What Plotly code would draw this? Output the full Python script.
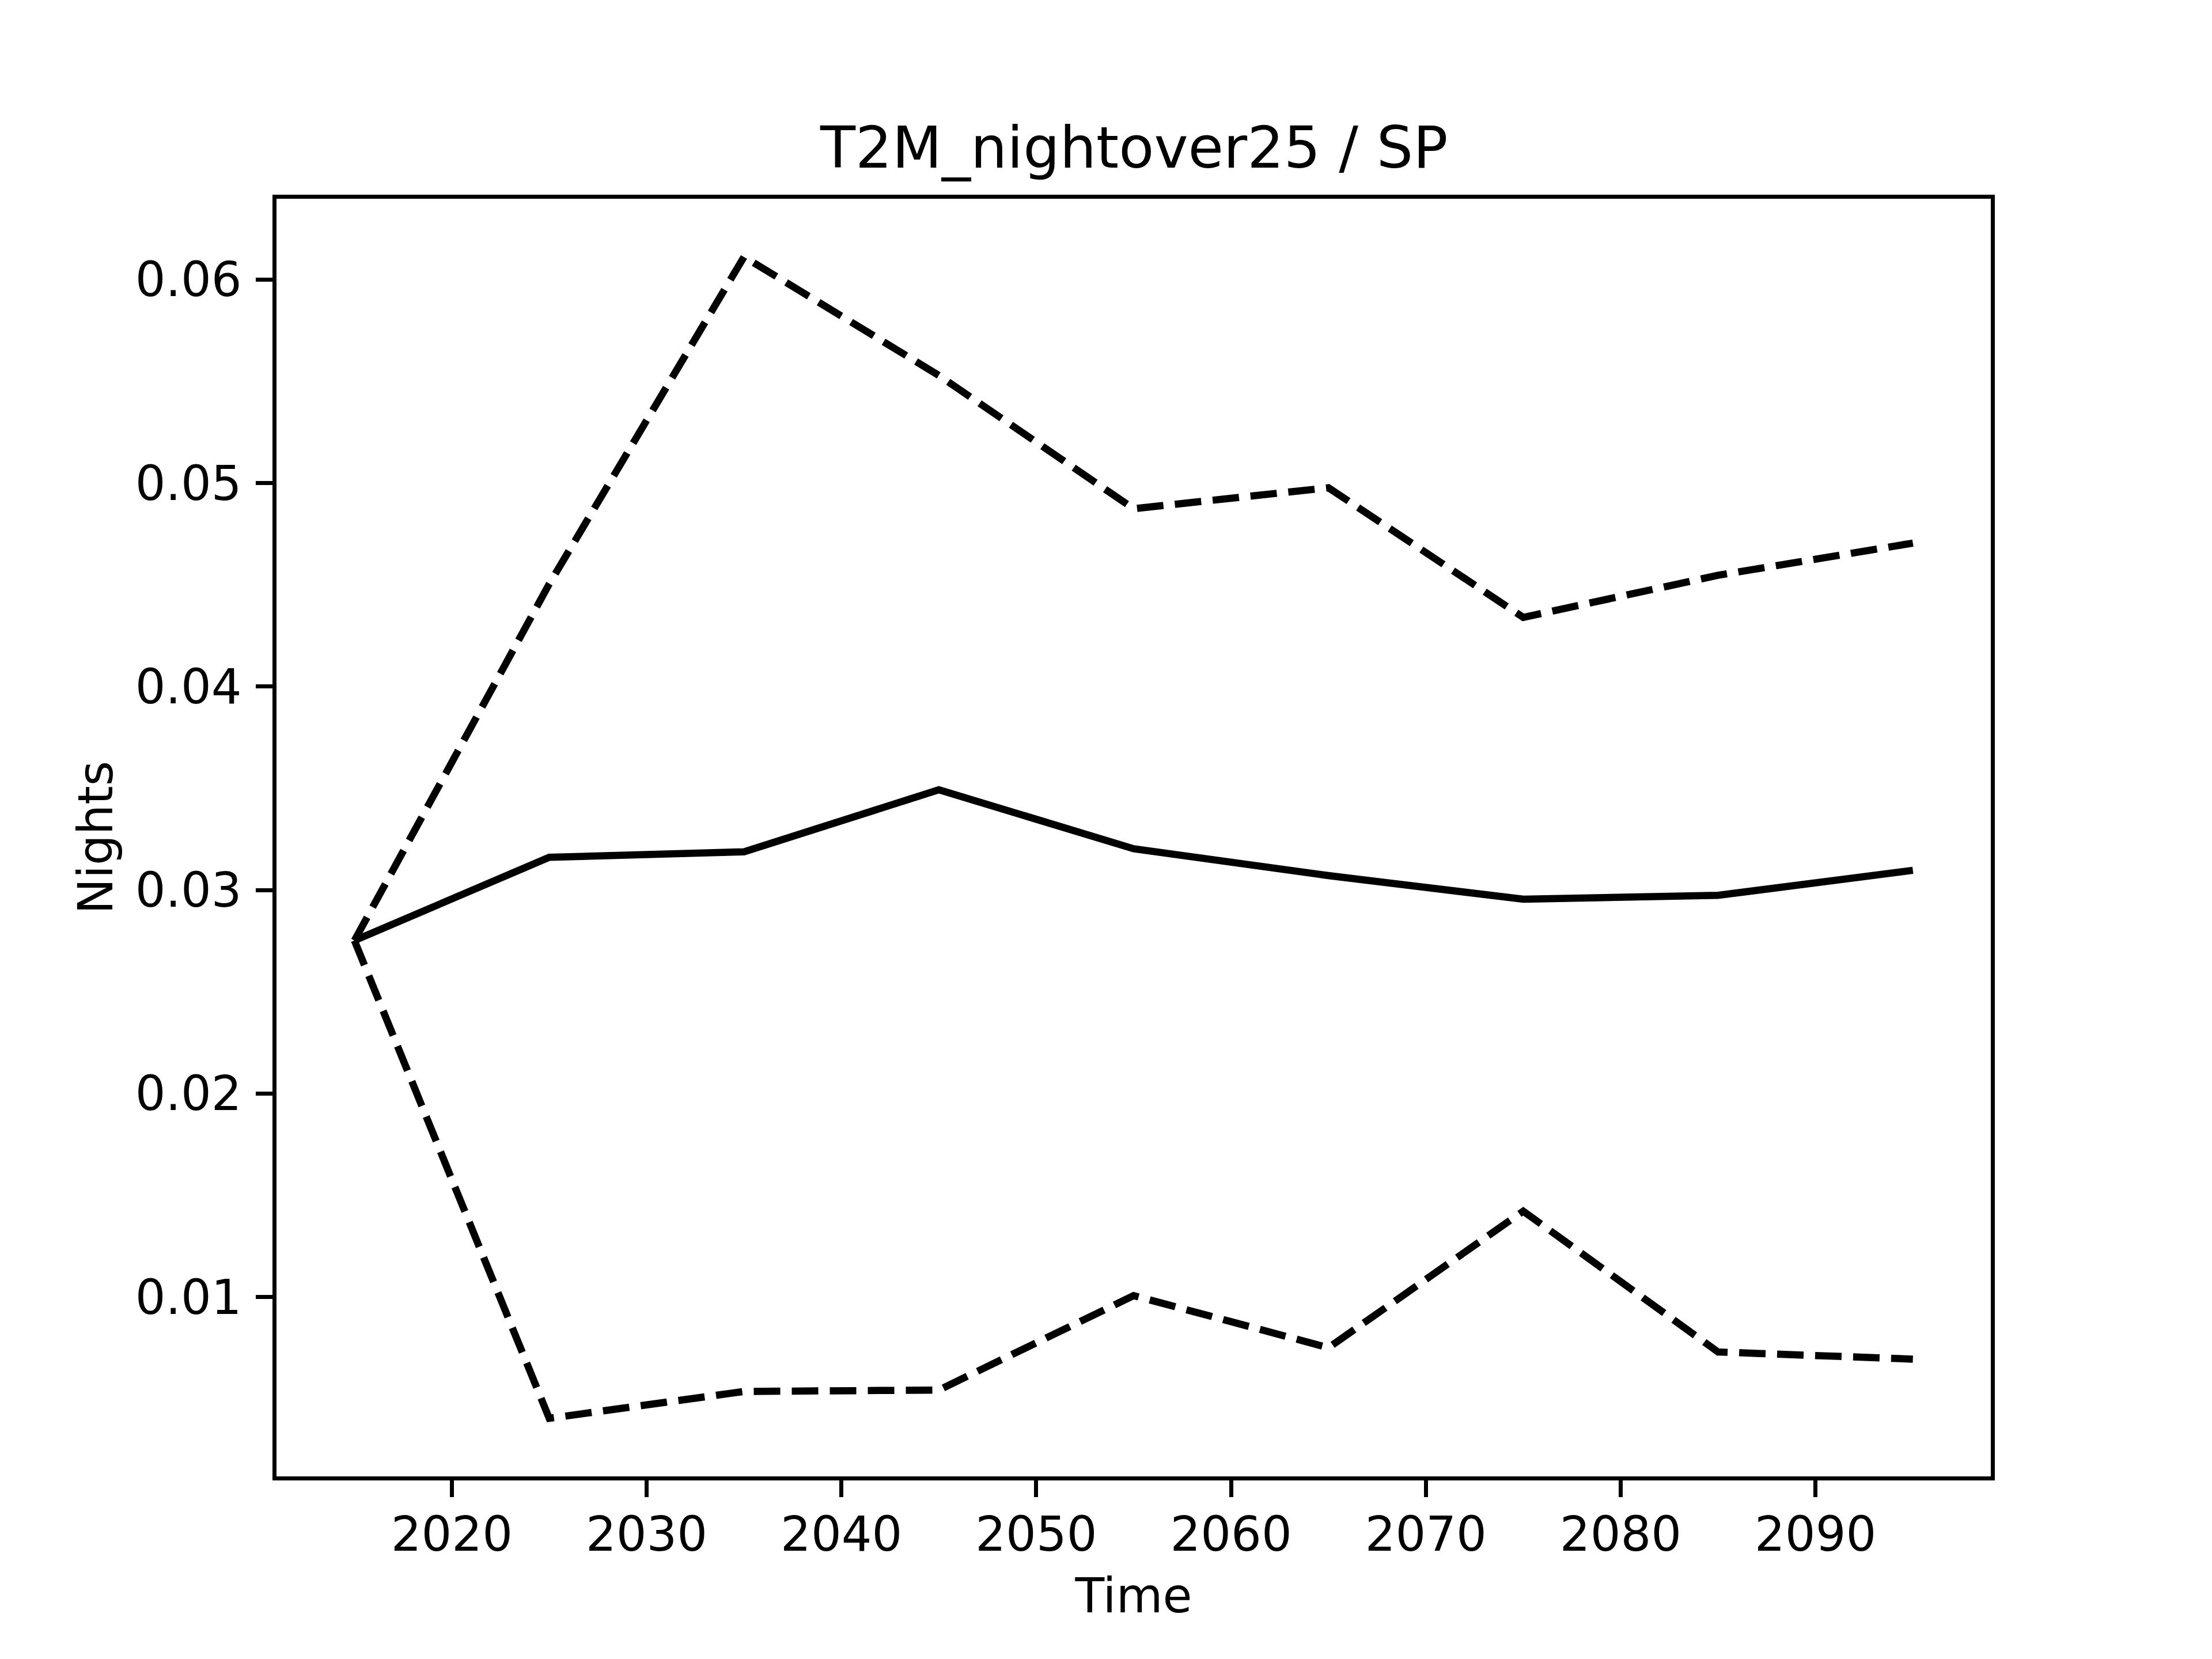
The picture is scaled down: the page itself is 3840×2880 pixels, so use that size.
import plotly.graph_objects as go

years = [2015, 2025, 2035, 2045, 2055, 2065, 2075, 2085, 2095]
mean_vals = [0.02752, 0.03161, 0.03188, 0.03493, 0.03203, 0.03071, 0.02955, 0.02974, 0.03097]
upper_vals = [0.02752, 0.04504, 0.06112, 0.05529, 0.04874, 0.04977, 0.04340, 0.04547, 0.04705]
lower_vals = [0.02752, 0.00404, 0.00536, 0.00543, 0.01007, 0.00751, 0.01422, 0.00730, 0.00695]

x_ticks = [2020, 2030, 2040, 2050, 2060, 2070, 2080, 2090]
y_ticks = [0.01, 0.02, 0.03, 0.04, 0.05, 0.06]
y_tick_text = ["0.01", "0.02", "0.03", "0.04", "0.05", "0.06"]

title_text = "T2M_nightover25 / SP"
x_label = "Time"
y_label = "Nights"

# page body has an 8px default margin; compensate
W, H = 3832, 2872
L, R, T, B = 472, 384, 337, 317
FONT = "DejaVu Sans"
LW = 12.5
DASH = "46px,20px"

# matplotlib-like 5% margins
xmin, xmax = min(years), max(years)
xr = xmax - xmin
allv = mean_vals + upper_vals + lower_vals
ymin, ymax = min(allv), max(allv)
yr = ymax - ymin

fig = go.Figure()
fig.add_trace(go.Scatter(x=years, y=mean_vals, mode="lines",
                         line=dict(color="black", width=LW), showlegend=False))
fig.add_trace(go.Scatter(x=years, y=upper_vals, mode="lines",
                         line=dict(color="black", width=LW, dash=DASH), showlegend=False))
fig.add_trace(go.Scatter(x=years, y=lower_vals, mode="lines",
                         line=dict(color="black", width=LW, dash=DASH), showlegend=False))

axis_common = dict(
    showgrid=False, zeroline=False, showline=True, mirror=True,
    linecolor="black", linewidth=6.7,
    ticks="outside", ticklen=29, tickwidth=6.7, tickcolor="black",
    tickfont=dict(family=FONT, size=83, color="black"),
)

fig.update_layout(
    width=W, height=H, autosize=False,
    margin=dict(l=L, r=R, t=T, b=B, pad=0),
    paper_bgcolor="white", plot_bgcolor="white",
    font=dict(family=FONT, color="black"),
    xaxis=dict(range=[xmin - 0.05 * xr, xmax + 0.05 * xr],
               tickvals=x_ticks, ticktext=[str(v) for v in x_ticks],
               ticklabelstandoff=-6,
               title=dict(text=x_label, font=dict(family=FONT, size=83), standoff=32),
               **axis_common),
    yaxis=dict(range=[ymin - 0.05 * yr, ymax + 0.05 * yr],
               tickvals=y_ticks, ticktext=y_tick_text,
               ticklabelstandoff=8,
               title=dict(text=y_label, font=dict(family=FONT, size=83), standoff=14),
               **axis_common),
    annotations=[dict(text=title_text, xref="paper", yref="paper", x=0.5, y=1,
                      xanchor="center", yanchor="bottom", yshift=28, showarrow=False,
                      font=dict(family=FONT, size=100, color="black"))],
)

fig.write_html("out.html")
